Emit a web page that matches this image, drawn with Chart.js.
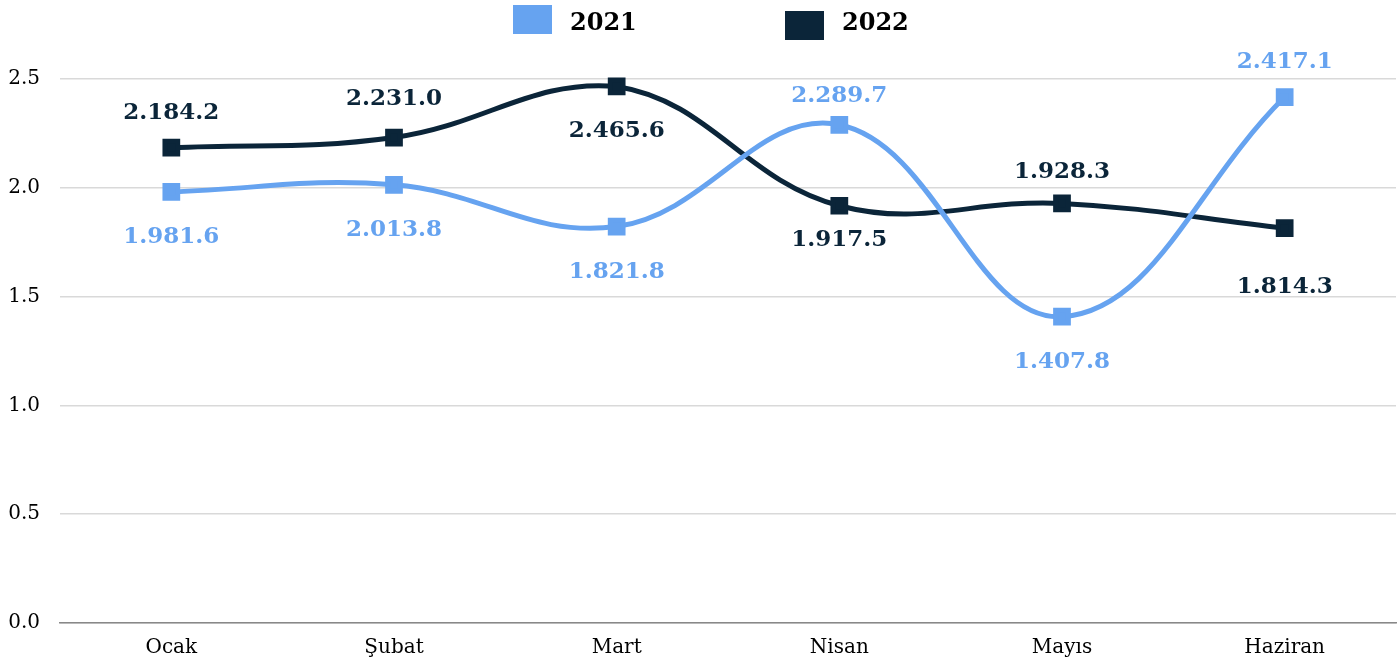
<!DOCTYPE html>
<html>
<head>
<meta charset="utf-8">
<script src="https://cdn.jsdelivr.net/npm/chart.js@4"></script>
<style>
  html, body { margin: 0; padding: 0; background: #fff; overflow: hidden; }
  #wrap { width: 1400px; height: 665px; position: relative; }
  canvas { display: block; }
</style>
</head>
<body>
<div id="wrap"><canvas id="chart"></canvas></div>
<script>
// data
var months = ['Ocak', 'Şubat', 'Mart', 'Nisan', 'Mayıs', 'Haziran'];
var values2021 = [1981.6, 2013.8, 1821.8, 2289.7, 1407.8, 2417.1];
var values2022 = [2184.2, 2231.0, 2465.6, 1917.5, 1928.3, 1814.3];
var yTicks = [0, 500, 1000, 1500, 2000, 2500];

// label placement (px from point, negative = above)
var labelDy2021 = [45, 45, 45, -29, 45, -35];
var labelDy2022 = [-35, -39, 45, 34, -31, 59];

var color2021 = '#66a3f0';
var color2022 = '#0b2539';
var serif = '"DejaVu Serif", serif';

function fmt(v) {
  var s = v.toFixed(1).split('.');
  var i = s[0];
  if (i.length > 3) i = i.slice(0, i.length - 3) + '.' + i.slice(-3);
  return i + '.' + s[1];
}

var valueLabels = {
  id: 'valueLabels',
  afterDatasetsDraw: function (chart) {
    var ctx = chart.ctx;
    var offsets = [labelDy2021, labelDy2022];
    ctx.save();
    ctx.font = 'bold 23px ' + serif;
    ctx.textAlign = 'center';
    ctx.textBaseline = 'middle';
    chart.data.datasets.forEach(function (ds, di) {
      var meta = chart.getDatasetMeta(di);
      ctx.fillStyle = ds.borderColor;
      meta.data.forEach(function (pt, i) {
        ctx.fillText(fmt(ds.data[i]), pt.x, pt.y + offsets[di][i]);
      });
    });
    ctx.restore();
  }
};

var topLegend = {
  id: 'topLegend',
  afterDraw: function (chart) {
    var ctx = chart.ctx;
    ctx.save();
    ctx.font = 'bold 24px ' + serif;
    ctx.textBaseline = 'middle';
    ctx.fillStyle = color2021;
    ctx.fillRect(513, 5, 39, 29);
    ctx.fillStyle = '#000';
    ctx.fillText(chart.data.datasets[0].label, 570, 24);
    ctx.fillStyle = color2022;
    ctx.fillRect(785, 11, 39, 29);
    ctx.fillStyle = '#000';
    ctx.fillText(chart.data.datasets[1].label, 842, 24);
    ctx.restore();
  }
};

new Chart(document.getElementById('chart'), {
  type: 'line',
  data: {
    labels: months,
    datasets: [
      {
        label: '2021',
        data: values2021,
        borderColor: color2021,
        backgroundColor: color2021,
        borderWidth: 5,
        tension: 0.4,
        pointStyle: 'rect',
        pointRadius: 9,
        pointHoverRadius: 9,
        clip: false
      },
      {
        label: '2022',
        data: values2022,
        borderColor: color2022,
        backgroundColor: color2022,
        borderWidth: 5,
        tension: 0.4,
        pointStyle: 'rect',
        pointRadius: 9,
        pointHoverRadius: 9,
        clip: false
      }
    ]
  },
  options: {
    responsive: true,
    maintainAspectRatio: false,
    animation: false,
    layout: { autoPadding: false, padding: { top: 79, right: 4, bottom: 0, left: 0 } },
    plugins: {
      legend: { display: false },
      tooltip: { enabled: false }
    },
    scales: {
      x: {
        offset: true,
        afterFit: function (axis) {
          axis.height = 42;
          axis.paddingLeft = 0;
          axis.paddingRight = 0;
        },
        grid: { display: false, drawTicks: false },
        border: { display: true, color: '#888', width: 1.5 },
        ticks: { color: '#000', font: { family: serif, size: 20 }, padding: 13 }
      },
      y: {
        min: 0,
        max: 2500,
        afterBuildTicks: function (axis) {
          axis.ticks = yTicks.map(function (v) { return { value: v }; });
        },
        afterFit: function (axis) { axis.width = 60; },
        grid: { color: '#d9d9d9', lineWidth: 1.5, drawTicks: false },
        border: { display: false },
        ticks: {
          color: '#000',
          font: { family: serif, size: 20 },
          padding: 20,
          callback: function (v) { return (v / 1000).toFixed(1); }
        }
      }
    }
  },
  plugins: [valueLabels, topLegend]
});
</script>
</body>
</html>
